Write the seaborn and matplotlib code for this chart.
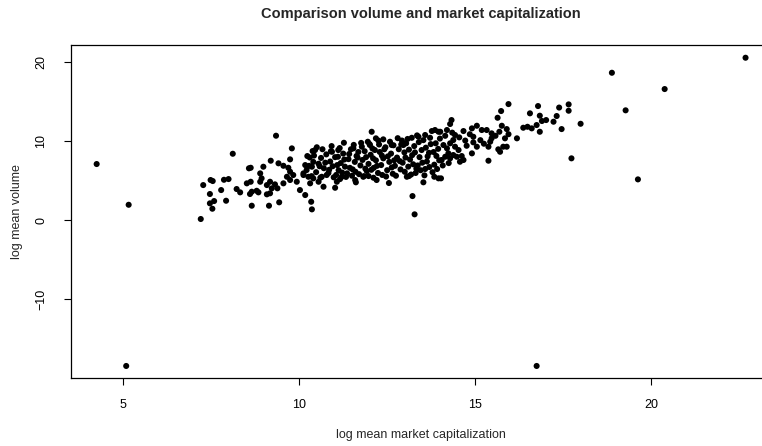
import matplotlib
matplotlib.use("Agg")
import matplotlib.pyplot as plt
import seaborn as sns
import pandas as pd

# log mean market capitalization (x) and log mean volume (y), one entry per asset
log_cap = [
    4.24, 5.15, 5.08, 16.75, 22.69, 18.89, 20.39, 19.28, 19.63, 17.66, 17.66, 17.39, 18.00, 17.46, 17.74,
    7.20, 7.27, 7.48, 7.54, 7.86, 7.99, 7.46, 7.78, 7.58, 7.46, 7.53, 7.92, 8.11, 8.22, 8.32, 8.51, 8.62,
    8.60, 8.65, 8.79, 8.84, 8.65, 8.57, 8.62, 8.98, 8.89, 8.89, 8.93, 9.08, 9.17, 9.22, 9.31, 9.08, 9.17,
    9.38, 9.14, 9.43, 9.34, 9.19, 9.41, 9.55, 9.69, 9.74, 9.74, 9.79, 9.55, 9.74, 9.93, 10.02, 10.17,
    10.31, 10.34, 10.36, 9.65, 9.83, 10.12, 10.26, 10.40, 10.17, 10.21, 10.36, 10.23, 10.38, 10.12,
    12.06, 12.18, 12.39, 11.27, 12.01, 13.20, 13.39, 13.58, 13.77, 13.86, 13.96, 10.93, 11.11, 10.45,
    11.54, 11.78, 12.63, 12.96,
    10.55, 10.69, 10.64, 10.78, 11.07, 11.02, 11.16, 11.21, 11.59, 11.61, 11.82, 11.97, 12.11, 12.20,
    12.55, 13.06, 13.12, 13.53, 13.84, 13.96, 13.22, 13.28, 14.03,
    10.48, 10.55, 10.62, 10.70, 10.77, 10.83, 10.88, 10.95, 11.02, 11.05, 11.12, 11.18, 11.25, 11.30,
    11.36, 11.40, 11.47, 11.52, 11.58, 11.63, 11.70, 11.74, 11.80, 11.86, 11.92, 11.97, 12.03, 12.08,
    12.12, 12.18, 12.24, 12.29, 12.33, 12.39, 12.45, 12.50, 12.56, 12.61, 12.66, 12.72, 12.78, 12.83,
    12.88, 12.94, 12.99, 13.04, 13.10, 13.15, 13.21, 13.27, 13.31, 13.37, 13.42, 13.48, 13.53, 13.58,
    13.63, 13.69, 13.74, 13.79, 13.84, 13.90, 13.95, 14.00,
    10.58, 10.90, 11.10, 11.22, 11.44, 11.66, 11.88, 12.00, 12.15, 12.36, 12.42, 12.58, 12.70, 12.90,
    13.00, 13.12, 13.24, 13.45, 13.60, 13.72, 13.88, 13.98, 11.55, 11.95, 12.25, 12.80, 13.35, 10.40,
    10.30, 10.28,
    10.35, 10.42, 10.50, 10.60, 10.66, 10.74, 10.85, 10.92, 10.98, 11.08, 11.15, 11.28, 11.33, 11.42,
    11.50, 11.60, 11.68, 11.76, 11.84, 11.90, 12.05, 12.10, 12.21, 12.27, 12.35, 12.47, 12.52, 12.63,
    12.68, 12.75, 12.86, 12.92, 13.02, 13.08, 13.18, 13.29, 13.33, 13.40, 13.50, 13.56, 13.65, 13.70,
    13.82, 13.92, 14.08, 14.15, 14.25, 14.35, 14.55, 14.72, 14.85, 15.15, 15.25, 15.58, 15.95,
    15.95, 15.74, 15.64, 16.79, 16.56, 16.84, 17.32, 16.37, 16.49, 16.61, 16.75, 16.90, 17.02, 17.23,
    16.84, 14.33, 14.29, 14.01, 14.20, 14.43, 14.38, 14.67, 14.91, 15.05, 15.19, 15.33, 15.47, 15.76,
    15.90, 15.69, 15.85, 16.19, 14.95, 14.76, 14.95, 15.05, 15.47, 15.43, 15.66, 15.80, 15.90, 15.38,
    14.05, 14.29, 14.48, 14.62, 14.67, 14.57, 14.91, 14.10, 14.20, 14.29, 14.43, 14.53, 14.24, 14.38,
    14.15, 15.38, 15.71,
]
log_vol = [
    7.08, 1.93, -18.45, -18.45, 20.52, 18.62, 16.56, 13.87, 5.14, 14.62, 13.82, 14.22, 12.17, 11.50, 7.80,
    0.13, 4.42, 5.06, 4.93, 5.09, 5.18, 3.29, 3.79, 2.40, 2.11, 1.43, 2.44, 8.38, 3.92, 3.50, 4.64, 4.84,
    3.29, 3.58, 3.70, 3.50, 1.81, 6.54, 6.61, 6.74, 5.90, 4.84, 5.27, 4.42, 4.84, 4.01, 4.51, 3.25, 3.38,
    4.01, 1.81, 2.24, 10.66, 7.50, 7.17, 6.86, 6.61, 7.67, 6.11, 9.06, 4.64, 5.06, 4.84, 3.79, 3.16,
    4.64, 2.31, 1.35, 5.47, 5.69, 5.69, 5.47, 5.27, 6.95, 6.32, 6.74, 8.09, 8.72, 5.90,
    11.16, 10.33, 10.20, 9.77, 9.48, 10.40, 10.53, 10.75, 11.25, 11.38, 11.16, 8.63, 8.85, 8.85,
    9.06, 9.27, 9.48, 9.48,
    4.84, 4.21, 5.47, 5.69, 4.84, 4.08, 5.18, 5.47, 5.06, 4.77, 5.47, 5.56, 5.35, 5.06,
    4.68, 5.47, 5.56, 4.77, 5.47, 5.27, 3.03, 0.72, 5.27,
    6.05, 7.12, 7.85, 6.55, 8.30, 5.95, 7.40, 6.80, 7.95, 5.70, 6.30, 7.20, 8.40, 6.75,
    5.90, 7.70, 8.95, 6.40, 7.35, 8.10, 5.80, 6.90, 7.60, 8.70, 6.20, 7.10, 8.25, 9.05,
    6.60, 7.55, 5.95, 8.60, 6.95, 7.80, 9.20, 6.30, 7.35, 8.40, 5.85, 6.85, 7.90, 8.95,
    6.40, 7.25, 8.55, 9.70, 6.75, 7.65, 8.20, 9.35, 5.95, 6.90, 7.95, 8.85, 10.10, 6.45,
    7.40, 8.50, 9.60, 6.05, 7.00, 8.10, 9.00, 10.30,
    6.80, 8.70, 8.00, 6.00, 6.60, 7.90, 6.50, 9.60, 8.85, 5.70, 8.95, 9.90, 7.55, 9.55,
    6.10, 8.90, 7.05, 6.30, 9.15, 10.40, 9.70, 7.55, 9.50, 9.90, 10.05, 10.35, 10.70, 7.35,
    7.90, 6.85,
    5.55, 8.15, 9.20, 5.35, 8.95, 7.25, 6.35, 9.35, 5.40, 6.95, 9.10, 7.65, 5.45, 8.35,
    5.60, 6.10, 8.60, 9.75, 5.55, 7.95, 6.35, 7.80, 6.85, 9.55, 8.15, 5.50, 8.05, 6.65,
    9.45, 5.60, 7.45, 10.05, 7.90, 10.25, 5.75, 8.55, 6.50, 9.85, 7.25, 5.65, 8.05, 6.70,
    8.60, 6.45, 6.90, 10.65, 7.20, 11.05, 10.45, 10.05, 10.85, 10.10, 9.65, 10.65, 10.85,
    14.66, 13.78, 12.93, 14.41, 13.49, 13.19, 13.15, 11.67, 11.79, 11.59, 12.01, 12.52, 12.64, 12.43,
    11.16, 12.64, 12.14, 11.16, 11.38, 10.75, 10.11, 11.25, 11.59, 11.92, 11.38, 11.38, 10.96, 11.92,
    11.50, 11.16, 10.33, 10.33, 10.53, 9.39, 9.82, 9.27, 10.33, 9.90, 8.94, 9.27, 9.27, 7.50,
    7.59, 7.80, 8.00, 8.09, 7.59, 7.37, 8.43, 9.48, 9.06, 9.70, 9.27, 8.85, 8.43, 8.22,
    8.00, 9.27, 8.63,
]

x_ticks = [5, 10, 15, 20]
y_ticks = [-10, 0, 10, 20]

df = pd.DataFrame({"cap": log_cap, "vol": log_vol})

sns.set_theme(style="white")
plt.rcParams["font.family"] = ["Liberation Sans", "DejaVu Sans"]

W, H = 762, 446
fig = plt.figure(figsize=(W / 100, H / 100), dpi=100)
left, right, top, bottom = 70.7, 771.5, 45.4, 378.3
ax = fig.add_axes([left / W, 1 - bottom / H, (right - left) / W, (bottom - top) / H])

sns.scatterplot(data=df, x="cap", y="vol", ax=ax, color="black", s=19,
                linewidth=0, edgecolor="none", legend=False)

ax.margins(x=0.04, y=0.04)
ax.set_xticks(x_ticks)
ax.set_yticks(y_ticks)
ax.set_xticklabels([str(t) for t in x_ticks])
ax.set_yticklabels([f"\u2212{abs(t)}" if t < 0 else str(t) for t in y_ticks],
                   rotation=90, va="center")
ax.tick_params(axis="both", direction="out", length=5, width=0.8, color="black",
               labelsize=9, labelcolor="black", bottom=True, left=True)
ax.tick_params(axis="x", pad=10)
ax.tick_params(axis="y", pad=12)
for sp in ax.spines.values():
    sp.set_color("black")
    sp.set_linewidth(0.9)

ax.set_xlabel("")
ax.set_ylabel("")
fig.text(421 / W, 1 - 435 / H, "log mean market capitalization", ha="center", va="center",
         fontsize=9)
fig.text(17 / W, 1 - 212 / H, "log mean volume", ha="center", va="center",
         rotation=90, fontsize=9)
fig.text(421 / W, 1 - 14 / H, "Comparison volume and market capitalization",
         ha="center", va="center", fontsize=10.5, fontweight="bold")

fig.savefig("out.png", dpi=100)
